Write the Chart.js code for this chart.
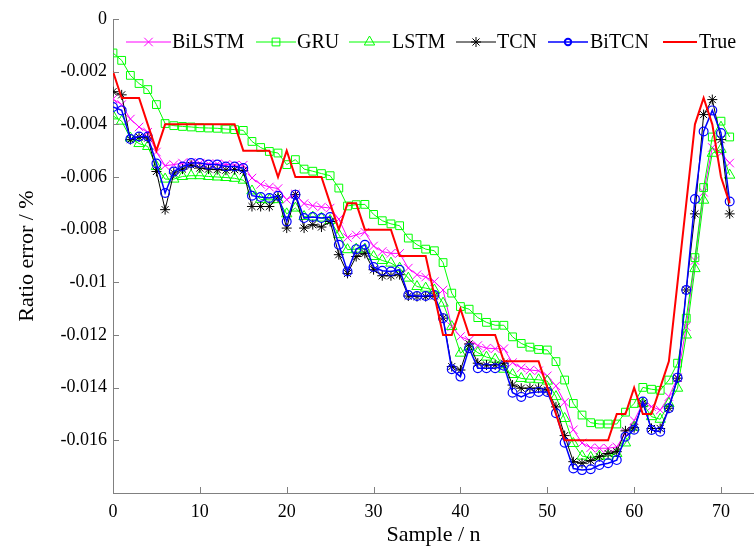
<!DOCTYPE html>
<html><head><meta charset="utf-8">
<script src="https://cdn.jsdelivr.net/npm/chart.js@4.4.1/dist/chart.umd.min.js"></script>
<style>html,body{margin:0;padding:0;background:#fff;}#wrap{width:754px;height:548px;position:relative;}</style>
</head><body><div id="wrap"><canvas id="c" width="754" height="548"></canvas></div>
<script>
const samples = [0,1,2,3,4,5,6,7,8,9,10,11,12,13,14,15,16,17,18,19,20,21,22,23,24,25,26,27,28,29,30,31,32,33,34,35,36,37,38,39,40,41,42,43,44,45,46,47,48,49,50,51,52,53,54,55,56,57,58,59,60,61,62,63,64,65,66,67,68,69,70,71];
const seriesNames = ['BiLSTM','GRU','LSTM','TCN','BiTCN','True'];
const xTicks = [0,10,20,30,40,50,60,70];
const yTicks = [0,-0.002,-0.004,-0.006,-0.008,-0.01,-0.012,-0.014,-0.016];

const bilstm = [-0.00304,-0.00325,-0.00380,-0.00410,-0.00430,-0.00505,-0.00557,-0.00553,-0.00547,-0.00545,-0.00547,-0.00550,-0.00550,-0.00552,-0.00555,-0.00555,-0.00604,-0.00628,-0.00638,-0.00644,-0.00686,-0.00665,-0.00701,-0.00709,-0.00714,-0.00718,-0.00760,-0.00830,-0.00820,-0.00810,-0.00862,-0.00883,-0.00890,-0.00890,-0.00946,-0.00971,-0.00980,-0.00997,-0.01029,-0.01168,-0.01206,-0.01220,-0.01240,-0.01250,-0.01252,-0.01252,-0.01305,-0.01325,-0.01333,-0.01336,-0.01355,-0.01393,-0.01455,-0.01560,-0.01610,-0.01628,-0.01630,-0.01630,-0.01625,-0.01572,-0.01525,-0.01460,-0.01472,-0.01485,-0.01434,-0.01362,-0.01168,-0.00917,-0.00658,-0.00488,-0.00510,-0.00547];
const gru = [-0.00129,-0.00157,-0.00214,-0.00245,-0.00268,-0.00325,-0.00397,-0.00405,-0.00408,-0.00410,-0.00413,-0.00414,-0.00415,-0.00418,-0.00420,-0.00423,-0.00465,-0.00488,-0.00503,-0.00509,-0.00553,-0.00534,-0.00570,-0.00578,-0.00587,-0.00595,-0.00642,-0.00710,-0.00705,-0.00704,-0.00742,-0.00766,-0.00778,-0.00785,-0.00832,-0.00857,-0.00874,-0.00880,-0.00925,-0.01041,-0.01092,-0.01102,-0.01134,-0.01152,-0.01163,-0.01163,-0.01207,-0.01232,-0.01246,-0.01255,-0.01257,-0.01301,-0.01371,-0.01460,-0.01504,-0.01533,-0.01538,-0.01538,-0.01538,-0.01493,-0.01460,-0.01399,-0.01406,-0.01410,-0.01371,-0.01307,-0.01136,-0.00906,-0.00640,-0.00448,-0.00388,-0.00448];
const lstm = [-0.00368,-0.00388,-0.00452,-0.00473,-0.00484,-0.00560,-0.00608,-0.00608,-0.00598,-0.00595,-0.00595,-0.00598,-0.00600,-0.00602,-0.00605,-0.00612,-0.00653,-0.00685,-0.00687,-0.00686,-0.00740,-0.00718,-0.00750,-0.00752,-0.00756,-0.00765,-0.00819,-0.00876,-0.00874,-0.00874,-0.00902,-0.00917,-0.00927,-0.00946,-0.00984,-0.01016,-0.01022,-0.01029,-0.01079,-0.01168,-0.01269,-0.01244,-0.01267,-0.01284,-0.01292,-0.01330,-0.01350,-0.01365,-0.01368,-0.01370,-0.01375,-0.01434,-0.01517,-0.01612,-0.01660,-0.01665,-0.01660,-0.01660,-0.01650,-0.01610,-0.01550,-0.01460,-0.01510,-0.01520,-0.01460,-0.01402,-0.01200,-0.00948,-0.00688,-0.00510,-0.00495,-0.00593];
const tcn = [-0.00276,-0.00288,-0.00458,-0.00448,-0.00452,-0.00579,-0.00724,-0.00585,-0.00570,-0.00555,-0.00566,-0.00570,-0.00572,-0.00574,-0.00572,-0.00576,-0.00712,-0.00712,-0.00712,-0.00676,-0.00794,-0.00667,-0.00794,-0.00781,-0.00790,-0.00769,-0.00895,-0.00966,-0.00902,-0.00890,-0.00952,-0.00975,-0.00975,-0.00971,-0.01052,-0.01054,-0.01054,-0.01052,-0.01136,-0.01320,-0.01333,-0.01234,-0.01307,-0.01314,-0.01314,-0.01307,-0.01390,-0.01402,-0.01402,-0.01402,-0.01409,-0.01473,-0.01582,-0.01681,-0.01687,-0.01677,-0.01662,-0.01650,-0.01643,-0.01564,-0.01552,-0.01459,-0.01555,-0.01555,-0.01478,-0.01364,-0.01029,-0.00740,-0.00363,-0.00306,-0.00458,-0.00740];
const bitcn = [-0.00334,-0.00347,-0.00456,-0.00446,-0.00446,-0.00549,-0.00661,-0.00579,-0.00560,-0.00547,-0.00547,-0.00553,-0.00553,-0.00560,-0.00560,-0.00566,-0.00671,-0.00676,-0.00680,-0.00671,-0.00769,-0.00667,-0.00756,-0.00752,-0.00756,-0.00752,-0.00857,-0.00959,-0.00874,-0.00857,-0.00942,-0.00956,-0.00959,-0.00952,-0.01048,-0.01052,-0.01052,-0.01048,-0.01136,-0.01330,-0.01358,-0.01250,-0.01326,-0.01326,-0.01326,-0.01317,-0.01419,-0.01435,-0.01420,-0.01416,-0.01416,-0.01497,-0.01609,-0.01707,-0.01713,-0.01710,-0.01694,-0.01687,-0.01675,-0.01586,-0.01560,-0.01453,-0.01561,-0.01567,-0.01478,-0.01362,-0.01029,-0.00684,-0.00427,-0.00347,-0.00433,-0.00693];
const trueVals = [-0.002,-0.003,-0.003,-0.003,-0.004,-0.005,-0.004,-0.004,-0.004,-0.004,-0.004,-0.004,-0.004,-0.004,-0.004,-0.005,-0.005,-0.005,-0.005,-0.006,-0.005,-0.006,-0.006,-0.006,-0.006,-0.007,-0.008,-0.007,-0.007,-0.008,-0.008,-0.008,-0.008,-0.009,-0.009,-0.009,-0.009,-0.0105,-0.012,-0.012,-0.011,-0.012,-0.012,-0.012,-0.012,-0.013,-0.013,-0.013,-0.013,-0.013,-0.014,-0.015,-0.016,-0.016,-0.016,-0.016,-0.016,-0.016,-0.015,-0.015,-0.014,-0.015,-0.015,-0.014,-0.013,-0.010,-0.007,-0.004,-0.003,-0.004,-0.006,-0.007];

const seriesValues = [bilstm, gru, lstm, tcn, bitcn, trueVals];
const styles = [
  {color:'#ff00ff', point:'crossRot', r:6, lw:1, pbw:1},
  {color:'#00ff00', point:'rect', r:5.5, lw:1, pbw:1},
  {color:'#00ff00', point:'triangle', r:6, lw:1, pbw:1},
  {color:'#000000', point:'star', r:5, lw:1, pbw:1},
  {color:'#0000ff', point:'circle', r:4.4, lw:1.5, pbw:1.2},
  {color:'#ff0000', point:false, r:0, lw:2, pbw:0}
];
const drawOrder = [6,5,4,3,2,1];

const datasets = seriesNames.map((name, k) => ({
  label: name,
  data: samples.map((s, i) => ({x: s, y: seriesValues[k][i]})),
  borderColor: styles[k].color,
  backgroundColor: 'rgba(0,0,0,0)',
  borderWidth: styles[k].lw,
  pointStyle: styles[k].point,
  pointRadius: styles[k].r,
  pointBorderWidth: styles[k].pbw,
  pointBorderColor: styles[k].color,
  pointBackgroundColor: 'rgba(0,0,0,0)',
  tension: 0,
  order: drawOrder[k]
}));

const AXIS_COLOR = '#808080';
const SERIF = '"Liberation Serif", "Times New Roman", serif';

const innerTicks = {
  id: 'innerTicks',
  afterDraw(chart) {
    const ctx = chart.ctx, xs = chart.scales.x, ys = chart.scales.y;
    const a = chart.chartArea;
    ctx.save();
    ctx.strokeStyle = AXIS_COLOR; ctx.lineWidth = 1;
    ctx.beginPath();
    xTicks.forEach(v => { const px = Math.round(xs.getPixelForValue(v)) + 0.5; ctx.moveTo(px, a.bottom); ctx.lineTo(px, a.bottom - 6); });
    yTicks.forEach(v => { const py = Math.round(ys.getPixelForValue(v)) + 0.5; ctx.moveTo(a.left, py); ctx.lineTo(a.left + 6, py); });
    ctx.stroke();
    ctx.restore();
  }
};

const legendLayout = [
  {x0:126, x1:171, tx:172},
  {x0:256, x1:296, tx:297},
  {x0:349, x1:390, tx:392},
  {x0:456, x1:496, tx:497},
  {x0:548, x1:588, tx:590},
  {x0:663, x1:697, tx:699}
];
const customLegend = {
  id: 'customLegend',
  afterDraw(chart) {
    const ctx = chart.ctx; const y = 42;
    ctx.save();
    seriesNames.forEach((name, k) => {
      const L = legendLayout[k], st = styles[k];
      ctx.strokeStyle = st.color; ctx.lineWidth = st.lw;
      ctx.beginPath(); ctx.moveTo(L.x0, y); ctx.lineTo(L.x1, y); ctx.stroke();
      if (st.point) {
        ctx.fillStyle = 'rgba(0,0,0,0)';
        ctx.strokeStyle = st.color;
        ctx.lineWidth = k === 4 ? 2 : st.pbw;
        Chart.helpers.drawPoint(ctx, {pointStyle: st.point, radius: k === 4 ? 3.2 : st.r, rotation: 0, borderWidth: ctx.lineWidth}, (L.x0 + L.x1) / 2, y);
      }
      ctx.fillStyle = '#000';
      ctx.font = '20px ' + SERIF;
      ctx.textBaseline = 'middle';
      ctx.textAlign = 'left';
      ctx.fillText(name, L.tx, y + 1);
    });
    ctx.restore();
  }
};

new Chart(document.getElementById('c'), {
  type: 'line',
  data: { datasets },
  plugins: [innerTicks, customLegend],
  options: {
    responsive: false,
    animation: false,
    devicePixelRatio: 1,
    layout: { autoPadding: false, padding: { top: 19, right: 0, left: 0, bottom: 0 } },
    plugins: { legend: { display: false }, tooltip: { enabled: false } },
    scales: {
      x: {
        type: 'linear', min: 0, max: 73.8,
        grid: { display: false, drawTicks: true, tickLength: 8 },
        border: { display: true, color: AXIS_COLOR, width: 1 },
        ticks: { stepSize: 10, color: '#000', padding: 0, font: { family: SERIF, size: 18 }, maxRotation: 0, callback: v => String(v) },
        afterBuildTicks: s => { s.ticks = xTicks.map(v => ({value: v})); },
        afterFit: s => { s.height = 55; s.paddingLeft = 0; s.paddingRight = 0; },
        title: { display: true, text: 'Sample / n', color: '#000', font: { family: SERIF, size: 22 }, padding: { top: 0, bottom: 0 } }
      },
      y: {
        type: 'linear', min: -0.018, max: 0,
        grid: { display: false, drawTicks: false },
        border: { display: true, color: AXIS_COLOR, width: 1 },
        ticks: { color: '#000', padding: 6, font: { family: SERIF, size: 18 }, callback: v => v === 0 ? '0' : String(+v.toFixed(3)) },
        afterBuildTicks: s => { s.ticks = yTicks.map(v => ({value: v})); },
        afterFit: s => { s.width = 113; },
        title: { display: true, text: 'Ratio error / %', color: '#000', font: { family: SERIF, size: 22 }, padding: { top: 14, bottom: 0 } }
      }
    }
  }
});
</script></body></html>
